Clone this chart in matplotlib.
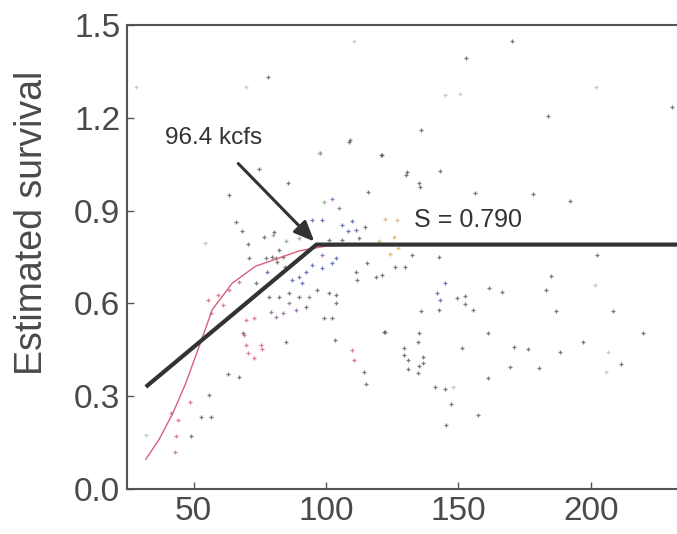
import matplotlib
matplotlib.use("Agg")
import matplotlib.pyplot as plt

plt.rcParams["font.family"] = ["Liberation Sans", "DejaVu Sans"]

# punkty, pogrupowane wg koloru
gray_x = [52.9, 56.6, 55.8, 62.9, 67.0, 68.5, 85.1, 103.4, 114.3, 115.2, 122.2, 129.3,
          130.9, 134.7, 134.7, 136.8, 170.3, 152.9, 230.5, 183.8, 136.0, 130.6, 143.1,
          135.3, 156.3, 178.2, 192.0, 142.5, 202.3, 184.9, 161.5, 166.3, 183.2, 149.4,
          152.5, 152.3, 142.5, 155.6, 136.0, 186.9, 208.3, 135.0, 161.0, 219.5, 197.0,
          129.3, 151.2, 171.0, 176.3, 188.2, 130.9, 135.0, 136.8, 169.4, 180.3, 211.2,
          161.0, 141.0, 145.0, 147.2, 157.3, 145.2, 78.3, 108.9, 120.6, 74.8, 85.8,
          115.9, 63.5, 66.1, 68.3, 70.4, 76.7, 71.1, 77.3, 81.1, 73.6, 78.6, 82.3,
          83.0, 84.6, 108.6, 97.6, 121.0, 130.2, 114.9, 101.1, 106.1, 112.4, 96.7,
          89.8, 86.1, 92.4, 101.1, 103.6, 103.6, 99.2, 102.4, 111.2, 111.8, 115.5,
          121.2, 130.0, 126.2, 118.7, 132.4, 121.8, 80.5, 82.3, 79.8, 81.7, 83.6,
          49.1, 135.6]
gray_y = [0.232, 0.232, 0.304, 0.371, 0.363, 0.503, 0.476, 0.482, 0.379, 0.339, 0.509, 0.433,
          0.387, 0.374, 0.476, 0.406, 1.449, 1.392, 1.234, 1.206, 1.161, 1.026, 1.029,
          0.988, 0.956, 0.954, 0.932, 0.749, 0.757, 0.689, 0.649, 0.638, 0.643, 0.616,
          0.624, 0.598, 0.579, 0.579, 0.576, 0.576, 0.576, 0.503, 0.505, 0.503, 0.476,
          0.457, 0.455, 0.458, 0.452, 0.444, 0.417, 0.398, 0.428, 0.395, 0.390, 0.403,
          0.360, 0.331, 0.322, 0.274, 0.239, 0.207, 1.331, 1.128, 1.080, 1.034, 0.990,
          0.961, 0.951, 0.864, 0.835, 0.792, 0.816, 0.746, 0.746, 0.746, 0.665, 0.622, 0.622,
          0.697, 0.719, 1.123, 1.085, 1.080, 1.015, 0.846, 0.805, 0.805, 0.810, 0.643,
          0.622, 0.633, 0.589, 0.633, 0.627, 0.600, 0.552, 0.552, 0.703, 0.676, 0.730,
          0.692, 0.719, 0.719, 0.686, 0.757, 0.509, 0.832, 0.773, 0.751, 0.735, 0.751,
          0.170, 0.975]

red_x = [63.5, 59.1, 55.4, 56.6, 61.0, 69.8, 72.9, 69.2, 69.8, 70.7, 72.9, 75.5, 76.0,
         109.7, 110.5, 41.6, 44.1, 43.5, 42.9, 48.5, 67.3]
red_y = [0.643, 0.627, 0.611, 0.568, 0.595, 0.546, 0.552, 0.498, 0.466, 0.439, 0.423,
         0.466, 0.452, 0.449, 0.417, 0.245, 0.223, 0.170, 0.120, 0.280, 0.670]

blue_x = [77.6, 94.9, 98.6, 109.9, 106.1, 108.4, 111.2, 103.6, 102.4, 98.6, 94.9, 92.4,
          89.8, 91.1, 87.3, 145.0, 141.8, 143.1]
blue_y = [0.700, 0.870, 0.870, 0.867, 0.854, 0.835, 0.837, 0.746, 0.730, 0.714, 0.724,
          0.703, 0.686, 0.665, 0.676, 0.665, 0.633, 0.611]

purple_x = [102.4, 104.9, 98.6, 93.6, 86.1, 83.6, 79.2, 81.1, 88.6]
purple_y = [0.937, 0.907, 0.757, 0.622, 0.600, 0.568, 0.573, 0.557, 0.579]

green_x = [99.2, 85.1, 90.0, 80.1]
green_y = [0.927, 0.800, 0.810, 0.821]

orange_x = [122.4, 126.8, 125.6, 124.0, 127.0, 120.0]
orange_y = [0.872, 0.870, 0.816, 0.760, 0.780, 0.800]

light_x = [110.5, 69.8, 28.2, 97.4, 54.5, 145.0, 150.6, 202.0, 201.4, 206.4, 205.7, 148.1, 32.2]
light_y = [1.449, 1.299, 1.299, 1.085, 0.794, 1.274, 1.276, 1.299, 0.660, 0.444, 0.379, 0.331, 0.175]

# krzywa czerwona (wygładzenie) i model łamany
curve_x = [32, 37, 42.2, 47, 52.1, 57.1, 64.6, 73.4, 82.1, 90, 100, 120, 232]
curve_y = [0.096, 0.16, 0.245, 0.34, 0.46, 0.58, 0.665, 0.72, 0.746, 0.77, 0.785, 0.79, 0.79]
break_x = [32, 96.4, 232.5]
break_y = [0.33, 0.79, 0.79]

fig = plt.figure(figsize=(6.77, 5.34), dpi=100)
ax = fig.add_axes([0.188, 0.0843, 0.812, 0.869])

groups = [
    (gray_x, gray_y, "#5a5a5a"),
    (light_x, light_y, "#bdbdbd"),
    (red_x, red_y, "#d0607a"),
    (blue_x, blue_y, "#4a5aa8"),
    (purple_x, purple_y, "#8a5a9a"),
    (green_x, green_y, "#78a878"),
    (orange_x, orange_y, "#d8aa60"),
]
for gx, gy, c in groups:
    ax.plot(gx, gy, "+", color=c, ms=3.2, mew=0.9, alpha=0.8)

ax.plot(curve_x, curve_y, color="#d8607a", lw=1.0)
ax.plot(break_x, break_y, color="#333333", lw=3.0, solid_capstyle="butt")

ax.annotate("96.4 kcfs", xy=(95.6, 0.80), xytext=(39.1, 1.135),
            fontsize=17.5, color="#333333", va="center", ha="left",
            arrowprops=dict(arrowstyle="-|>,head_length=0.7,head_width=0.3",
                            color="#333333", lw=2.2,
                            shrinkA=12, shrinkB=0))
ax.text(133.1, 0.87, "S = 0.790", fontsize=18, color="#333333", va="center")

ax.set_xlim(25, 232.5)
ax.set_ylim(0, 1.5)
ax.set_xticks([50, 100, 150, 200])
ax.set_yticks([0.0, 0.3, 0.6, 0.9, 1.2, 1.5])
ax.set_yticklabels(["0.0", "0.3", "0.6", "0.9", "1.2", "1.5"])
ax.tick_params(direction="in", length=5, width=1, colors="#555555",
               labelsize=24, labelcolor="#4a4a4a", pad=5)
ax.spines["right"].set_visible(False)
for s in ["left", "bottom", "top"]:
    ax.spines[s].set_color("#555555")
    ax.spines[s].set_linewidth(1.5)

fig.text(0.048, 1 - 223 / 534, "Estimated survival", rotation=90,
         fontsize=27, color="#4a4a4a", ha="center", va="center")

fig.savefig("out.png", dpi=100)
